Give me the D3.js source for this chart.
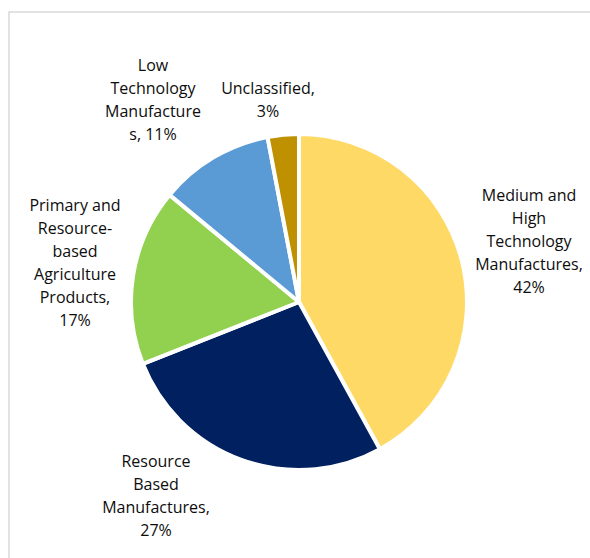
<!DOCTYPE html>
<html>
<head>
<meta charset="utf-8">
<script src="https://cdn.jsdelivr.net/npm/d3@7"></script>
<style>
  html, body { margin: 0; padding: 0; background: #fff; }
  svg { display: block; }
  text { font-family: "Open Sans", Lato, sans-serif; font-size: 16px; fill: #0d0d0d; }
</style>
</head>
<body>
<script>
// Export composition by technology class (share of total, %)
const categories = [
  "Medium and High Technology Manufactures",
  "Resource Based Manufactures",
  "Primary and Resource-based Agriculture Products",
  "Low Technology Manufactures",
  "Unclassified"
];
const shares = [42, 27, 17, 11, 3];
// Label text as wrapped in the chart, one array of lines per slice
const labelLines = [
  ["Medium and", "High", "Technology", "Manufactures,", "42%"],
  ["Resource", "Based", "Manufactures,", "27%"],
  ["Primary and", "Resource-", "based", "Agriculture", "Products,", "17%"],
  ["Low", "Technology", "Manufacture", "s, 11%"],
  ["Unclassified,", "3%"]
];
const colors = ["#FFD966", "#002060", "#92D050", "#5B9BD5", "#BF9000"];

const W = 590, H = 558;
const cx = 299, cy = 302, R = 168;
const lineH = 23;
// label centres (x, y of first line)
const labelPos = [[529, 195], [156, 461], [75, 205], [153, 65], [268, 88]];

const svg = d3.select("body").append("svg").attr("width", W).attr("height", H);

// chart area frame
svg.append("rect")
  .attr("x", 9).attr("y", 12).attr("width", W).attr("height", H)
  .attr("fill", "#fff").attr("stroke", "#d9d9d9").attr("stroke-width", 1.5);

const data = categories.map((c, i) => ({ name: c, value: shares[i], color: colors[i], lines: labelLines[i], pos: labelPos[i] }));

const pie = d3.pie().value(d => d.value).sort(null);
const arc = d3.arc().innerRadius(0).outerRadius(R);

const g = svg.append("g").attr("transform", `translate(${cx},${cy})`);
g.selectAll("path").data(pie(data)).join("path")
  .attr("d", arc)
  .attr("fill", d => d.data.color)
  .attr("stroke", "#fff")
  .attr("stroke-width", 4)
  .attr("stroke-linejoin", "round");

const labels = svg.append("g").selectAll("text").data(data).join("text")
  .attr("text-anchor", "middle")
  .attr("x", d => d.pos[0])
  .attr("y", d => d.pos[1]);
labels.each(function(d) {
  d3.select(this).selectAll("tspan").data(d.lines).join("tspan")
    .attr("x", d.pos[0])
    .attr("y", (l, j) => d.pos[1] + j * lineH)
    .attr("dy", "0.35em")
    .text(l => l);
});
</script>
</body>
</html>
